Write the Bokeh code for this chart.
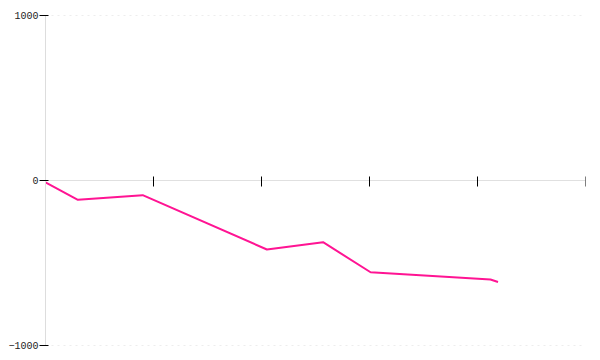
from bokeh.plotting import figure
from bokeh.models import Range1d, LinearAxis, FixedTicker, Span
from bokeh.embed import file_html
from bokeh.resources import INLINE

# data
x_vals = [0.0, 0.30, 0.90, 2.05, 2.57, 3.01, 4.12, 4.19]
y_vals = [-12, -117, -89, -418, -374, -556, -600, -615]
x_ticks = [0, 1, 2, 3, 4, 5]
y_ticks = [-1000, 0, 1000]
y_tick_labels = {-1000: "−1000", 0: "0", 1000: "1000"}
grid_levels = [-1000, 1000]

p = figure(width=600, height=360, output_backend="svg", toolbar_location=None,
           x_axis_location=None, y_axis_location=None,
           x_range=Range1d(0, 5), y_range=Range1d(-1000, 1000),
           min_border_left=45, min_border_right=15, min_border_top=15, min_border_bottom=15)
p.outline_line_color = None
p.background_fill_color = "white"
p.xgrid.visible = False
p.ygrid.visible = False

for g in grid_levels:
    p.add_layout(Span(location=g, dimension="width", line_color="#dcdcdc",
                      line_dash="2 4", line_width=1, level="underlay"))

yaxis = LinearAxis(ticker=FixedTicker(ticks=y_ticks))
yaxis.major_label_overrides = y_tick_labels
yaxis.axis_line_color = "#dddddd"
yaxis.major_tick_line_color = "black"
yaxis.major_tick_out = 6
yaxis.major_tick_in = 3
yaxis.minor_tick_line_color = None
yaxis.major_label_standoff = 1
yaxis.major_label_text_font = "Liberation Mono"
yaxis.major_label_text_font_size = "10px"
yaxis.major_label_text_color = "#222222"
p.add_layout(yaxis, "left")

xaxis = LinearAxis(ticker=FixedTicker(ticks=x_ticks), fixed_location=0)
xaxis.major_label_overrides = {t: "" for t in x_ticks}
xaxis.axis_line_color = "#e0e0e0"
xaxis.major_tick_line_color = "black"
xaxis.major_tick_out = 6
xaxis.major_tick_in = 4
xaxis.minor_tick_line_color = None
xaxis.major_label_standoff = 0
p.add_layout(xaxis, "below")

p.line(x_vals, y_vals, line_color="#ff1493", line_width=2)

open("out.html", "w").write(file_html(p, INLINE))
